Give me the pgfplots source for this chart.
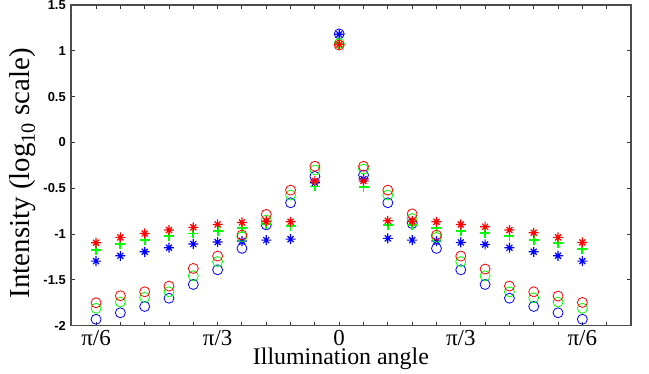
\documentclass[border=0pt]{standalone}
\usepackage{pgfplots}
\pgfplotsset{compat=1.18}
\usepackage{pgfplotstable}
\usepackage{fontspec}
\setmainfont{Liberation Serif}
\newfontfamily\arialfont{Liberation Sans}

\pgfdeclareplotmark{mstar}{%
  \pgfpathmoveto{\pgfqpoint{-\pgfplotmarksize}{0pt}}\pgfpathlineto{\pgfqpoint{\pgfplotmarksize}{0pt}}%
  \pgfpathmoveto{\pgfqpoint{0pt}{-\pgfplotmarksize}}\pgfpathlineto{\pgfqpoint{0pt}{\pgfplotmarksize}}%
  \pgfpathmoveto{\pgfqpoint{-0.6\pgfplotmarksize}{-0.6\pgfplotmarksize}}\pgfpathlineto{\pgfqpoint{0.6\pgfplotmarksize}{0.6\pgfplotmarksize}}%
  \pgfpathmoveto{\pgfqpoint{-0.6\pgfplotmarksize}{0.6\pgfplotmarksize}}\pgfpathlineto{\pgfqpoint{0.6\pgfplotmarksize}{-0.6\pgfplotmarksize}}%
  \pgfusepathqstroke}

\pgfplotstableread{
x rc gc bc rs gs bs
-10 -1.75  -1.81  -1.93  -1.095 -1.175 -1.295
-9  -1.673 -1.742 -1.859 -1.036 -1.109 -1.237
-8  -1.63  -1.69  -1.79  -0.993 -1.066 -1.193
-7  -1.568 -1.63  -1.70  -0.956 -1.022 -1.149
-6  -1.375 -1.455 -1.55  -0.927 -0.993 -1.109
-5  -1.24  -1.30  -1.39  -0.895 -0.964 -1.087
-4  -1.011 -1.03  -1.156 -0.873 -0.938 -1.076
-3  -0.785 -0.847 -0.90  -0.86  -0.89  -1.066
-2  -0.52  -0.574 -0.658 -0.866 -0.913 -1.055
-1  -0.26  -0.30  -0.37  -0.42  -0.48  -0.44
0   1.063  1.08   1.185  1.07   1.075  1.18
1   -0.26  -0.29  -0.356 -0.42  -0.49  -0.40
2   -0.52  -0.574 -0.658 -0.855 -0.90  -1.047
3   -0.78  -0.83  -0.885 -0.86  -0.905 -1.066
4   -1.011 -1.036 -1.156 -0.866 -0.938 -1.076
5   -1.24  -1.30  -1.39  -0.895 -0.964 -1.091
6   -1.382 -1.455 -1.55  -0.92  -0.986 -1.113
7   -1.568 -1.63  -1.70  -0.956 -1.022 -1.149
8   -1.63  -1.695 -1.79  -0.986 -1.066 -1.193
9   -1.677 -1.742 -1.859 -1.036 -1.095 -1.237
10  -1.746 -1.81  -1.93  -1.091 -1.167 -1.295
}\data

\begin{document}
\begin{tikzpicture}
\begin{axis}[
  scale only axis,
  width=560bp, height=320.7bp,
  xmin=-11.03, xmax=12,
  ymin=-2, ymax=1.5,
  axis line style={draw=black!70, line width=1.1bp},
  tick style={draw=black!80, line width=0.9bp},
  tick align=inside,
  major tick length=4bp,
  xtick={-10,...,11},
  xticklabels={π/6,,,,,π/3,,,,,0,,,,,π/3,,,,,π/6,},
  xticklabel style={font=\fontsize{23}{23}\selectfont, anchor=base, yshift=-20bp, inner sep=0pt},
  ytick={-2,-1.5,...,1.5},
  yticklabel style={font=\arialfont\bfseries\fontsize{13}{13}\selectfont, anchor=east, inner sep=0pt, xshift=-5bp},
  /pgf/number format/assume math mode=true,
  xlabel={Illumination angle},
  xlabel style={font=\fontsize{24}{24}\selectfont, at={(axis description cs:0.482,-0.1205)}, anchor=base, inner sep=0pt},
  ylabel={Intensity (log\textsubscript{10} scale)},
  ylabel style={font=\fontsize{29}{29}\selectfont, at={(axis description cs:-0.0857,0.476)}, anchor=center},
  clip=false,
]
\addplot[only marks, mark=o, mark size=5bp, draw=blue, line width=0.8bp] table[x=x,y=bc] {\data};
\addplot[only marks, mark=mstar, mark size=5bp, draw=blue, line width=1.2bp] table[x=x,y=bs] {\data};
\addplot[only marks, mark=o, mark size=5bp, draw=green, line width=0.8bp] table[x=x,y=gc] {\data};
\addplot[only marks, mark=+, mark size=5bp, draw=green, line width=1.8bp] table[x=x,y=gs] {\data};
\addplot[only marks, mark=o, mark size=5bp, draw=red, line width=0.8bp] table[x=x,y=rc] {\data};
\addplot[only marks, mark=mstar, mark size=5bp, draw=red, line width=1.2bp] table[x=x,y=rs] {\data};
\end{axis}
\path[use as bounding box] ([shift={(-71bp,-48.3bp)}]current axis.south west) rectangle ([shift={(18bp,5bp)}]current axis.north east);
\end{tikzpicture}
\end{document}
